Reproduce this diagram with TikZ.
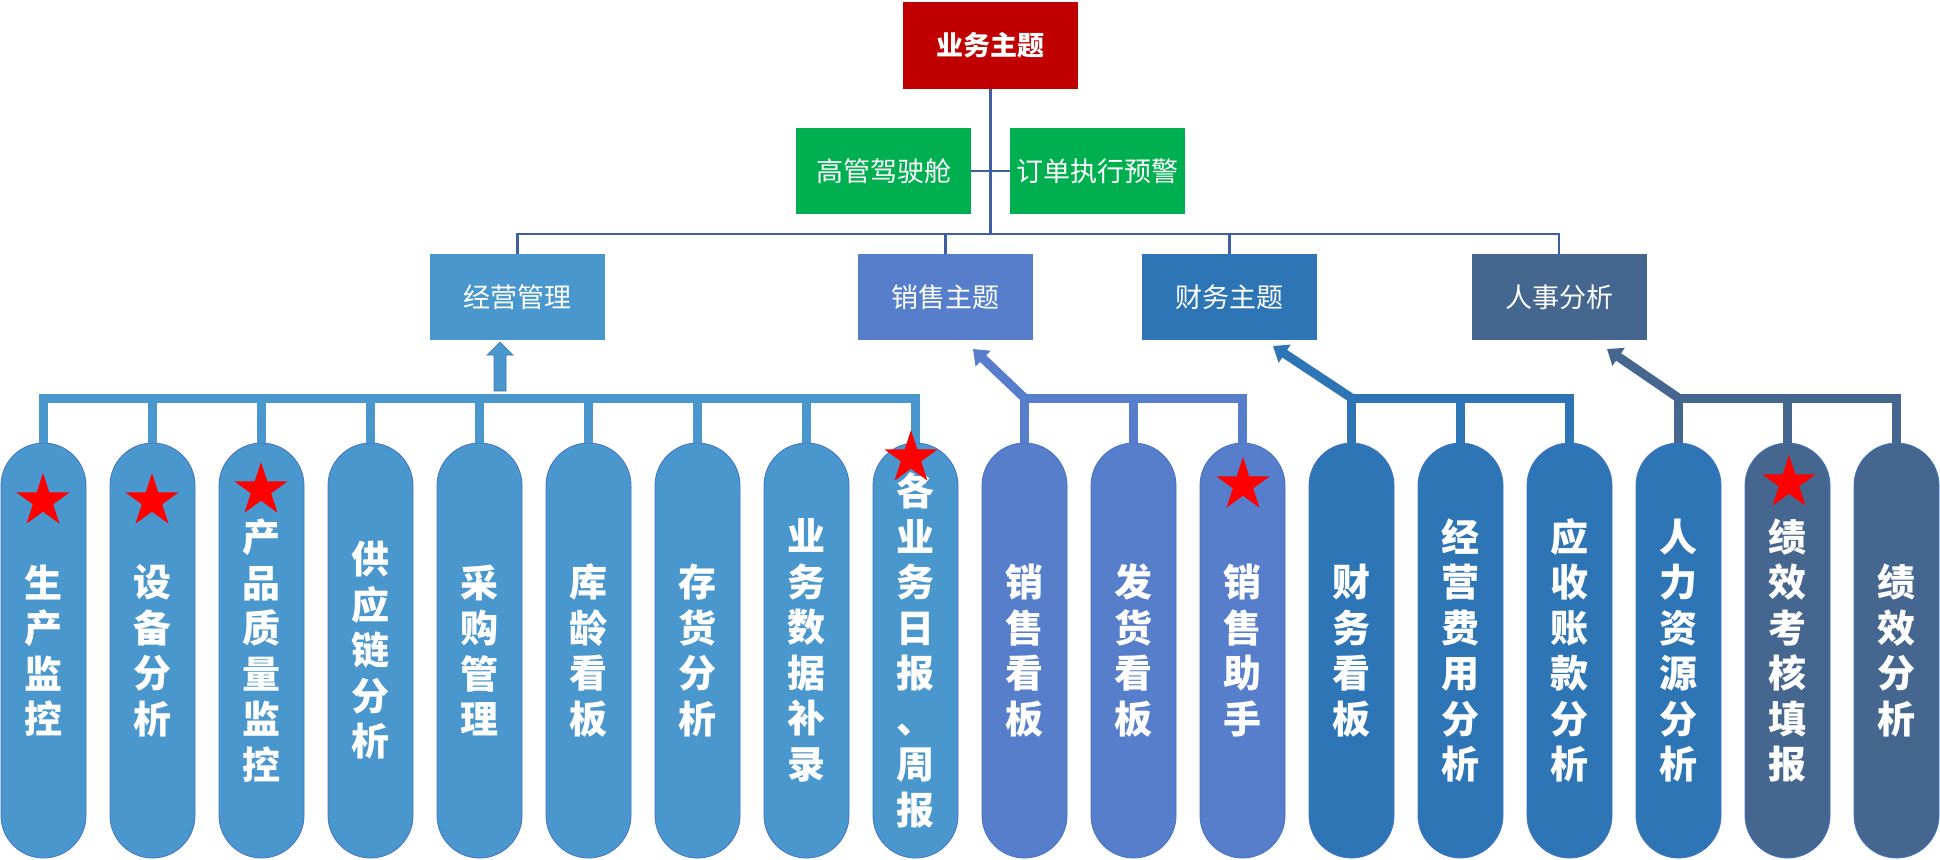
\documentclass[tikz,border=0pt]{standalone}
\usepackage{fontspec}
\newfontfamily\cjk{Noto Sans CJK SC}
\usetikzlibrary{shapes.geometric,arrows.meta}
\definecolor{cRed}{HTML}{C00000}
\definecolor{cGreen}{HTML}{00B050}
\definecolor{colA}{HTML}{4A97CD}
\definecolor{colB}{HTML}{567ECA}
\definecolor{colC}{HTML}{2E75B6}
\definecolor{colD}{HTML}{45668E}
\definecolor{topline}{HTML}{3F5FA5}
\definecolor{rim}{HTML}{4472C4}
\begin{document}
\begin{tikzpicture}[x=1pt,y=-1pt,
  box/.style={rectangle, minimum width=175pt, minimum height=86pt, inner sep=0pt,
    text=white, font=\cjk\fontsize{27}{32}\selectfont},
  pill/.style={rectangle, rounded corners=42.5pt, minimum width=85pt, minimum height=415pt,
    inner sep=0pt, text=white, align=center, draw=rim, line width=0.8pt,
    font=\cjk\bfseries\fontsize{38}{45.5}\selectfont},
  starn/.style={star, star points=5, star point ratio=2.618, minimum size=56pt,
    inner sep=0pt, fill=red, draw=none},
  tl/.style={draw=topline, line width=2.5pt},
  busA/.style={draw=colA, line width=9pt},
  busB/.style={draw=colB, line width=9pt},
  busC/.style={draw=colC, line width=9pt},
  busD/.style={draw=colD, line width=9pt},
  tipd/.style={-{Triangle[length=14pt,width=21pt]}}
]
\fill[white] (0,0) rectangle (1940,859);
\useasboundingbox (0,0) rectangle (1940,859);

% top level
\node[box, fill=cRed, minimum height=87pt, font=\cjk\bfseries\fontsize{27}{32}\selectfont] (top) at (990.5,45.5) {业务主题};
\node[box, fill=cGreen] (gA) at (883.5,171) {高管驾驶舱};
\node[box, fill=cGreen] (gB) at (1097.5,171) {订单执行预警};

% level 2
\node[box, fill=colA] (L1) at (517.5,297) {经营管理};
\node[box, fill=colB] (L2) at (945.5,297) {销售主题};
\node[box, fill=colC] (L3) at (1229.5,297) {财务主题};
\node[box, fill=colD] (L4) at (1559,297) {人事分析};

\coordinate (b0) at (0,234);
\coordinate (b1) at (0,398);

\draw[tl] (top.south) -- (top.south |- b0);
\draw[tl] (gA.east) -- (gB.west);
\draw[tl] (L1.north) -- (L1.north |- b0) -- (L4.north |- b0) -- (L4.north);
\draw[tl] (L2.north) -- (L2.north |- b0);
\draw[tl] (L3.north) -- (L3.north |- b0);

% pills
\node[pill, fill=colA] (p0) at (43.5,650.5) {生\\产\\监\\控};
\node[pill, fill=colA] (p1) at (152.5,650.5) {设\\备\\分\\析};
\node[pill, fill=colA] (p2) at (261.5,650.5) {产\\品\\质\\量\\监\\控};
\node[pill, fill=colA] (p3) at (370.5,650.5) {供\\应\\链\\分\\析};
\node[pill, fill=colA] (p4) at (479.5,650.5) {采\\购\\管\\理};
\node[pill, fill=colA] (p5) at (588.5,650.5) {库\\龄\\看\\板};
\node[pill, fill=colA] (p6) at (697.5,650.5) {存\\货\\分\\析};
\node[pill, fill=colA] (p7) at (806.5,650.5) {业\\务\\数\\据\\补\\录};
\node[pill, fill=colA] (p8) at (915.5,650.5) {各\\业\\务\\日\\报\\、\\周\\报};
\node[pill, fill=colB] (p9) at (1024.5,650.5) {销\\售\\看\\板};
\node[pill, fill=colB] (p10) at (1133.5,650.5) {发\\货\\看\\板};
\node[pill, fill=colB] (p11) at (1242.5,650.5) {销\\售\\助\\手};
\node[pill, fill=colC] (p12) at (1351.5,650.5) {财\\务\\看\\板};
\node[pill, fill=colC] (p13) at (1460.5,650.5) {经\\营\\费\\用\\分\\析};
\node[pill, fill=colC] (p14) at (1569.5,650.5) {应\\收\\账\\款\\分\\析};
\node[pill, fill=colC] (p15) at (1678.5,650.5) {人\\力\\资\\源\\分\\析};
\node[pill, fill=colD] (p16) at (1787.5,650.5) {绩\\效\\考\\核\\填\\报};
\node[pill, fill=colD] (p17) at (1896.5,650.5) {绩\\效\\分\\析};

% group A connectors
\draw[busA] (p0.north) -- (p0.north |- b1) -- (p8.north |- b1) -- (p8.north);
\foreach \i in {1,...,7} \draw[busA] (p\i.north) -- (p\i.north |- b1);
\filldraw[fill=colA, draw=rim, line width=0.6pt] (494,391) -- (494,355) -- (487,355) -- (500,342) -- (513,355) -- (506,355) -- (506,391) -- cycle;

% group B
\coordinate (tB) at (973,349);
\draw[busB] (p9.north) -- (p9.north |- b1) -- (p11.north |- b1) -- (p11.north);
\draw[busB] (p10.north) -- (p10.north |- b1);
\draw[busB, tipd] (p9.north |- b1) -- (tB);

% group C
\coordinate (tC) at (1273,346);
\draw[busC] (p12.north) -- (p12.north |- b1) -- (p14.north |- b1) -- (p14.north);
\draw[busC] (p13.north) -- (p13.north |- b1);
\draw[busC, tipd] (p12.north |- b1) -- (tC);

% group D
\coordinate (tD) at (1607,349);
\draw[busD] (p15.north) -- (p15.north |- b1) -- (p17.north |- b1) -- (p17.north);
\draw[busD] (p16.north) -- (p16.north |- b1);
\draw[busD, tipd] (p15.north |- b1) -- (tD);

% stars
\node[starn] (s0) at (43,501) {};
\node[starn] (s1) at (152,501) {};
\node[starn] (s2) at (261,490) {};
\node[starn] (s8) at (911,458) {};
\node[starn] (s11) at (1243,485) {};
\node[starn] (s16) at (1789,483) {};
\end{tikzpicture}
\end{document}
